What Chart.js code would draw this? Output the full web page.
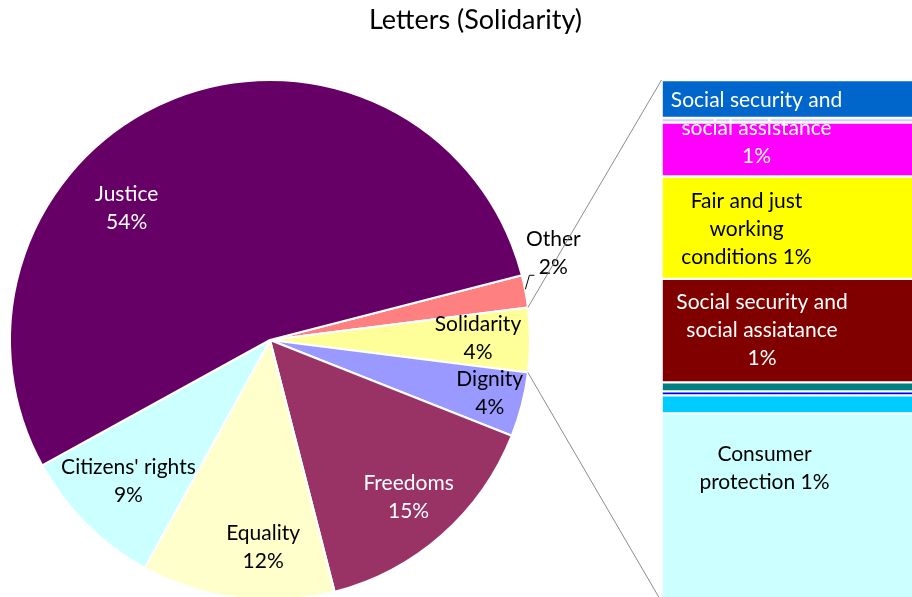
<!DOCTYPE html>
<html><head><meta charset="utf-8">
<script src="https://cdn.jsdelivr.net/npm/chart.js@4.4.0/dist/chart.umd.min.js"></script>
<style>
html,body{margin:0;padding:0;background:#fff;overflow:hidden;width:912px;height:597px}
#wrap{position:relative;width:912px;height:597px;overflow:hidden}
canvas{position:absolute;left:0;top:0}
</style></head><body>
<div id="wrap">
<canvas id="pie" width="912" height="620"></canvas>
<canvas id="bar" width="912" height="620"></canvas>
</div>
<script>
// ---- data ----
const chartTitle = 'Letters (Solidarity)';
const pieLabels = ['Other', 'Solidarity', 'Dignity', 'Freedoms', 'Equality', "Citizens' rights", 'Justice'];
const pieValues = [2, 4, 4, 15, 12, 9, 54];
const pieColors = ['#FF8080', '#FFFF99', '#9999FF', '#993366', '#FFFFCC', '#CCFFFF', '#660066'];
const pieTextColors = ['#000', '#000', '#000', '#fff', '#000', '#000', '#fff'];
const splitSlice = 'Solidarity';

const barCategories = ['Social security and social assistance', 'Item 2', 'Item 3', 'Fair and just working conditions',
  'Social security and social assiatance', 'Item 6', 'Item 7', 'Item 8', 'Consumer protection'];
const barValues = [0.292, 0.035, 0.415, 0.788, 0.796, 0.069, 0.031, 0.138, 1.436];
const barColors = ['#0066CC', '#CCCCFF', '#FF00FF', '#FFFF00', '#800000', '#008080', '#0000FF', '#00CCFF', '#CCFFFF'];
const barLabelLines = [
  ['Social security and', 'social assistance', '1%'], [], [],
  ['Fair and just', 'working', 'conditions 1%'],
  ['Social security and', 'social assiatance', '1%'], [], [], [],
  ['Consumer', 'protection 1%']
];
const barTextColors = ['#fff', '#000', '#000', '#000', '#fff', '#000', '#000', '#000', '#000'];

// ---- styling ----
const FONT = 'Lato, "Open Sans", sans-serif';
const LABEL_PX = 21;
const LINE_H = 28;
const pieLabelPlace = [
  {da: -6.3, r: 1.14}, {da: -0.5, r: 0.80}, {da: -0.7, r: 0.87}, {da: 0, r: 0.806},
  {da: -5.3, r: 0.796}, {da: 0, r: 0.77}, {da: -25.7, r: 0.75}
];
const barLabelPlace = [
  {dx: 94, dy: 29}, null, null, {dx: 84, dy: 2}, {dx: 99.5, dy: 0}, null, null, null, {dx: 102, dy: -38}
];

const pieTotal = pieValues.reduce((a, b) => a + b, 0);
const splitIdx = pieLabels.indexOf(splitSlice);
const before = pieValues.slice(0, splitIdx).reduce((a, b) => a + b, 0);
const pieRotation = 90 - (before + pieValues[splitIdx] / 2) / pieTotal * 360;

Chart.defaults.font.family = FONT;

function drawLines(ctx, lines, x, y, color) {
  ctx.save();
  ctx.fillStyle = color;
  ctx.font = LABEL_PX + 'px ' + FONT;
  ctx.textAlign = 'center';
  ctx.textBaseline = 'middle';
  const y0 = y - (lines.length - 1) * LINE_H / 2;
  lines.forEach((t, i) => ctx.fillText(t, x, y0 + i * LINE_H));
  ctx.restore();
}

const pieLabelPlugin = {
  id: 'pieLabels',
  afterDatasetsDraw(chart) {
    const ctx = chart.ctx;
    const arcs = chart.getDatasetMeta(0).data;
    arcs.forEach((arc, i) => {
      const mid = (arc.startAngle + arc.endAngle) / 2;
      const p = pieLabelPlace[i];
      const a = mid + p.da * Math.PI / 180;
      const r = arc.outerRadius * p.r;
      const x = arc.x + Math.cos(a) * r;
      const y = arc.y + Math.sin(a) * r;
      const pct = Math.round(pieValues[i] / pieTotal * 100) + '%';
      drawLines(ctx, [pieLabels[i], pct], x, y, pieTextColors[i]);
      if (p.r > 1) {
        const x0 = arc.x + Math.cos(mid) * arc.outerRadius;
        const y0 = arc.y + Math.sin(mid) * arc.outerRadius;
        ctx.save();
        ctx.strokeStyle = '#000';
        ctx.lineWidth = 1;
        ctx.beginPath();
        ctx.moveTo(x0, y0 - 2);
        ctx.lineTo(x0 + 4, y0 - 16);
        ctx.lineTo(x0 + 9, y0 - 16);
        ctx.stroke();
        ctx.restore();
      }
    });
    ctx.save();
    ctx.fillStyle = '#000';
    ctx.font = '27px ' + FONT;
    ctx.textAlign = 'center';
    ctx.textBaseline = 'middle';
    ctx.fillText(chartTitle, 475.5, 20);
    ctx.restore();
  }
};

const pieChart = new Chart(document.getElementById('pie'), {
  type: 'pie',
  data: {
    labels: pieLabels,
    datasets: [{data: pieValues, backgroundColor: pieColors, borderColor: '#fff', borderWidth: 2}]
  },
  options: {
    responsive: false, animation: false, events: [],
    rotation: pieRotation,
    layout: {padding: {left: 9, top: 79, right: 381, bottom: 19}},
    plugins: {legend: {display: false}, tooltip: {enabled: false}, title: {display: false}}
  },
  plugins: [pieLabelPlugin]
});

const barOverlayPlugin = {
  id: 'barOverlay',
  afterDatasetsDraw(chart) {
    const ctx = chart.ctx;
    const arc = pieChart.getDatasetMeta(0).data[splitIdx];
    const first = chart.getDatasetMeta(0).data[0];
    const last = chart.getDatasetMeta(barValues.length - 1).data[0];
    const left = first.x - first.width / 2;
    const topY = Math.min(first.y, first.base);
    const botY = Math.max(last.y, last.base);
    ctx.save();
    ctx.strokeStyle = '#8C8C8C';
    ctx.lineWidth = 1;
    ctx.beginPath();
    ctx.moveTo(arc.x + Math.cos(arc.startAngle) * arc.outerRadius, arc.y + Math.sin(arc.startAngle) * arc.outerRadius);
    ctx.lineTo(left - 1, topY);
    ctx.moveTo(arc.x + Math.cos(arc.endAngle) * arc.outerRadius, arc.y + Math.sin(arc.endAngle) * arc.outerRadius);
    ctx.lineTo(left - 2, botY);
    ctx.stroke();
    ctx.restore();
    barValues.forEach((v, i) => {
      const pl = barLabelPlace[i];
      if (!pl) return;
      const el = chart.getDatasetMeta(i).data[0];
      const l = el.x - el.width / 2;
      const cy = (el.y + el.base) / 2;
      drawLines(ctx, barLabelLines[i], l + pl.dx, cy + pl.dy, barTextColors[i]);
    });
  }
};

new Chart(document.getElementById('bar'), {
  type: 'bar',
  data: {
    labels: [splitSlice],
    datasets: barCategories.map((c, i) => ({
      label: c, data: [barValues[i]], backgroundColor: barColors[i],
      borderColor: '#fff', borderWidth: {top: 1.5, bottom: 1.5, left: 0, right: 0}, borderSkipped: false,
      barPercentage: 1, categoryPercentage: 1
    }))
  },
  options: {
    responsive: false, animation: false, events: [],
    layout: {padding: {left: 662.5, top: 80, right: 0, bottom: 20}},
    scales: {
      x: {display: false, stacked: true},
      y: {display: false, stacked: true, min: 0, max: pieValues[splitIdx], reverse: true}
    },
    plugins: {legend: {display: false}, tooltip: {enabled: false}, title: {display: false}}
  },
  plugins: [barOverlayPlugin]
});
</script>
</body></html>
